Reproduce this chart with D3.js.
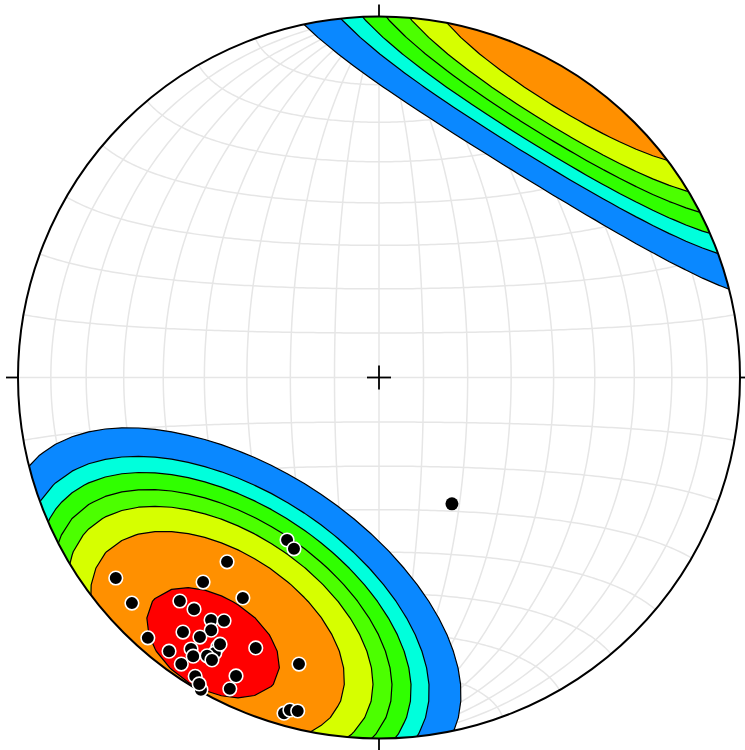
<!DOCTYPE html>
<html lang="en">
<head>
<meta charset="UTF-8" />
<title>Stereonet</title>
<script src="https://cdn.jsdelivr.net/npm/d3@7"></script>
<style>
  body { margin: 0; background: #fff; }
  svg { display: block; }
</style>
</head>
<body>
<div id="container"></div>
<script>
// poles, lower hemisphere (trend, plunge in degrees)
const poleTrend = [209.5, 206.4, 219.5, 232.7, 220.7, 227.6, 221.7, 218.6, 211.7, 214.7,
  212.5, 213.6, 217.6, 214.6, 221.6, 204.5, 210.9, 210.8, 214.7, 213.7,
  211.7, 210.6, 217.5, 214.6, 195.6, 211.6, 205.6, 209.7, 205.6, 195.8,
  195.0, 193.7, 210.4, 210.8]
const polePlunge = [47.1, 46.0, 34.2, 9.2, 26.2, 8.1, 18.2, 19.0, 29.0, 19.4,
  21.2, 17.1, 12.0, 13.7, 4.0, 18.8, 14.1, 12.2, 9.4, 8.0,
  10.3, 10.0, 5.0, 4.0, 18.7, 3.2, 9.2, 0.5, 4.9, 3.8,
  5.2, 5.5, 1.8, 15.1]
// single plotted line
const lineTrend = [150.0]
const linePlunge = [56.8]

// density contour levels
const levels = [9.3, 11.3, 12.5, 13.8, 15.1, 17.0, 20.6]
const levelColors = ['#0a88ff', '#00ffdc', '#30ff00', '#4cff00', '#d6ff00', '#ff9000', '#ff0000']

const width = 745
const height = 750
const cx = 379
const cy = 377.5
const R = 361

const xs = d3.scaleLinear().domain([-1, 1]).range([cx - R, cx + R])
const ys = d3.scaleLinear().domain([-1, 1]).range([cy + R, cy - R])

const rad = Math.PI / 180
function toVec(trend, plunge) {
  const t = trend * rad, p = plunge * rad
  return [Math.cos(p) * Math.sin(t), Math.cos(p) * Math.cos(t), Math.sin(p)]
}
// equal-area, lower hemisphere
function project(v) {
  const k = 1 / Math.sqrt(1 + v[2])
  return [v[0] * k, v[1] * k]
}

const svg = d3.create('svg')
  .attr('width', width)
  .attr('height', height)
  .attr('viewBox', [0, 0, width, height])

svg.append('defs').append('clipPath').attr('id', 'net')
  .append('circle').attr('cx', cx).attr('cy', cy).attr('r', R)

svg.append('circle').attr('cx', cx).attr('cy', cy).attr('r', R).attr('fill', '#fff')

// grid (meridian net, 10 deg)
const line = d3.line().x(d => xs(d[0])).y(d => ys(d[1]))
const netPoint = (lon, lat) => {
  const l = lon * rad, f = lat * rad
  return project([Math.cos(f) * Math.sin(l), Math.sin(f), Math.cos(f) * Math.cos(l)])
}
const gridG = svg.append('g').attr('fill', 'none').attr('stroke', '#e6e6e6').attr('stroke-width', 1.5)
for (let lon = -80; lon <= 80; lon += 10) {
  const cap = lon === 0 ? 90 : 80
  gridG.append('path').attr('d', line(d3.range(-cap, cap + 0.5, 1).map(lat => netPoint(lon, lat))))
}
for (let lat = -80; lat <= 80; lat += 10) {
  gridG.append('path').attr('d', line(d3.range(-90, 90.5, 1).map(lon => netPoint(lon, lat))))
}

// exponential kamb density
const vecs = poleTrend.map((t, i) => toVec(t, polePlunge[i]))
const sigma = 8
const n = vecs.length
const fk = 2 * (1 + n / (sigma * sigma))
const units = Math.sqrt(n * (fk / 2 - 1) / (fk * fk))
function density(v) {
  let s = 0
  for (const p of vecs) {
    const c = Math.abs(v[0] * p[0] + v[1] * p[1] + v[2] * p[2])
    s += Math.exp(fk * (c - 1))
  }
  return Math.max(0, (s - 0.5) / units)
}
const N = 48
const E = 1.08
const step = 2 * E / (N - 1)
const values = new Array(N * N)
for (let j = 0; j < N; j++) {
  for (let i = 0; i < N; i++) {
    const x = -E + i * step, y = E - j * step
    const h = Math.hypot(x, y)
    const r = Math.min(h, Math.SQRT2 - 1e-6)
    const th = 2 * Math.asin(r / Math.SQRT2)
    const s = Math.sin(th)
    const v = h > 0 ? [s * x / h, s * y / h, Math.cos(th)] : [0, 0, 1]
    values[j * N + i] = density(v)
  }
}
const contours = d3.contours().size([N, N]).thresholds(levels)(values)
const toPx = d3.geoTransform({
  point(gx, gy) { this.stream.point(xs(-E + (gx - 0.5) * step), ys(E - (gy - 0.5) * step)) }
})
const cpath = d3.geoPath(toPx)
svg.append('g').attr('clip-path', 'url(#net)')
  .selectAll('path')
  .data(contours)
  .join('path')
  .attr('d', cpath)
  .attr('fill', (d, i) => levelColors[i])
  .attr('stroke', '#000')
  .attr('stroke-width', 1.2)
  .attr('stroke-linejoin', 'round')

// primitive, ticks, centre
svg.append('circle').attr('cx', cx).attr('cy', cy).attr('r', R)
  .attr('fill', 'none').attr('stroke', '#000').attr('stroke-width', 2)
const ticks = svg.append('g').attr('stroke', '#000').attr('stroke-width', 1.8)
;[0, 90, 180, 270].forEach(a => {
  const s = Math.sin(a * rad), c = Math.cos(a * rad)
  ticks.append('line')
    .attr('x1', cx + s * R).attr('y1', cy - c * R)
    .attr('x2', cx + s * (R + 12)).attr('y2', cy - c * (R + 12))
})
ticks.append('line').attr('x1', cx - 12).attr('x2', cx + 12).attr('y1', cy).attr('y2', cy)
ticks.append('line').attr('x1', cx).attr('x2', cx).attr('y1', cy - 12).attr('y2', cy + 12)

// poles
svg.append('g')
  .selectAll('circle')
  .data(vecs.map(project))
  .join('circle')
  .attr('cx', d => xs(d[0]))
  .attr('cy', d => ys(d[1]))
  .attr('r', 6.8)
  .attr('fill', '#000')
  .attr('stroke', '#fff')
  .attr('stroke-width', 1.6)

svg.append('g')
  .selectAll('circle')
  .data(lineTrend.map((t, i) => project(toVec(t, linePlunge[i]))))
  .join('circle')
  .attr('cx', d => xs(d[0]))
  .attr('cy', d => ys(d[1]))
  .attr('r', 6.5)
  .attr('fill', '#000')

container.append(svg.node())
</script>
</body>
</html>
